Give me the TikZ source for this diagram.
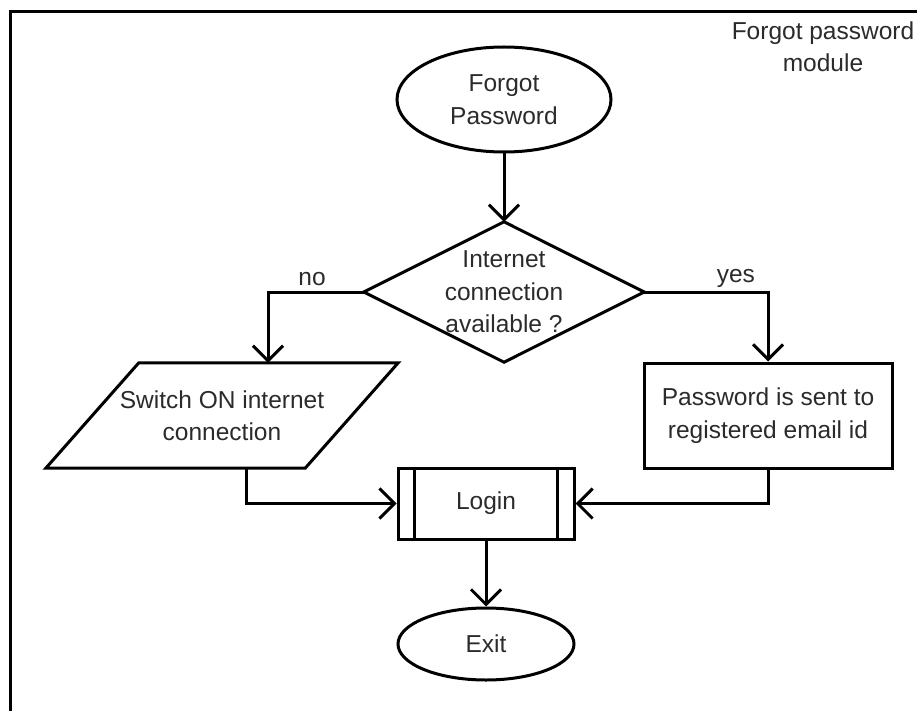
\documentclass[tikz,border=0pt]{standalone}
\usepackage{fontspec}
\setmainfont{Liberation Sans}
\usetikzlibrary{arrows.meta,shapes.geometric}
\definecolor{txt}{gray}{0.17}
\tikzset{
  every node/.style={font=\fontsize{24.5}{32.5}\selectfont, text=txt, align=center},
  ln/.style={line width=3pt, draw=black},
  arr/.style={ln, -{Straight Barb[length=15pt,width=30pt]}},
  term/.style={ellipse, ln},
  proc/.style={rectangle, ln},
  blank/.style={rectangle, draw=none, inner sep=0pt},
}
\begin{document}
\begin{tikzpicture}[x=1pt,y=-1pt]
\useasboundingbox (0,0) rectangle (917,711);
% frame
\coordinate (fbl) at (10,711);
\coordinate (ftl) at (10,12);
\coordinate (ftr) at (917,12);
\draw[ln] (fbl) -- (ftl) -- (ftr);
\node (title) at (823,46.5) {Forgot password\\module};

\node[term, minimum width=214pt, minimum height=105pt] (fp) at (504,99.5) {Forgot\\Password};

\node[blank, minimum width=280pt, minimum height=140pt] (dec) at (504,292) {Internet\\connection\\available ?};
\draw[ln, line join=miter] (dec.north) -- (dec.east) -- (dec.south) -- (dec.west) -- cycle;

\node[blank, minimum width=352pt, minimum height=105pt] (switch) at (222,415.5) {Switch ON internet\\connection};
\draw[ln, line join=miter] ([xshift=93pt]switch.north west) -- (switch.north east) -- ([xshift=-93pt]switch.south east) -- (switch.south west) -- cycle;

\node[proc, minimum width=248pt, minimum height=105pt] (pw) at (768,415.5) {Password is sent to\\registered email id};

\node[proc, minimum width=176pt, minimum height=71pt] (login) at (486,503.5) {Login};
\draw[ln] ([xshift=18pt]login.north west) -- ([xshift=18pt]login.south west);
\draw[ln] ([xshift=-18pt]login.north east) -- ([xshift=-18pt]login.south east);

\node[term, minimum width=176pt, minimum height=72pt] (exit) at (486,644) {Exit};

% connectors
\draw[arr] (fp.south) -- (dec.north);
\draw[arr] (dec.west) -| node[pos=0.27, above, yshift=1pt] {no} ([xshift=46pt]switch.north);
\draw[arr] (dec.east) -| node[pos=0.37, above] {yes} (pw.north);
\draw[arr] ([xshift=24pt]switch.south) |- (login.west);
\draw[arr] (pw.south) |- (login.east);
\draw[arr] (login.south) -- (exit.north);
\end{tikzpicture}
\end{document}
